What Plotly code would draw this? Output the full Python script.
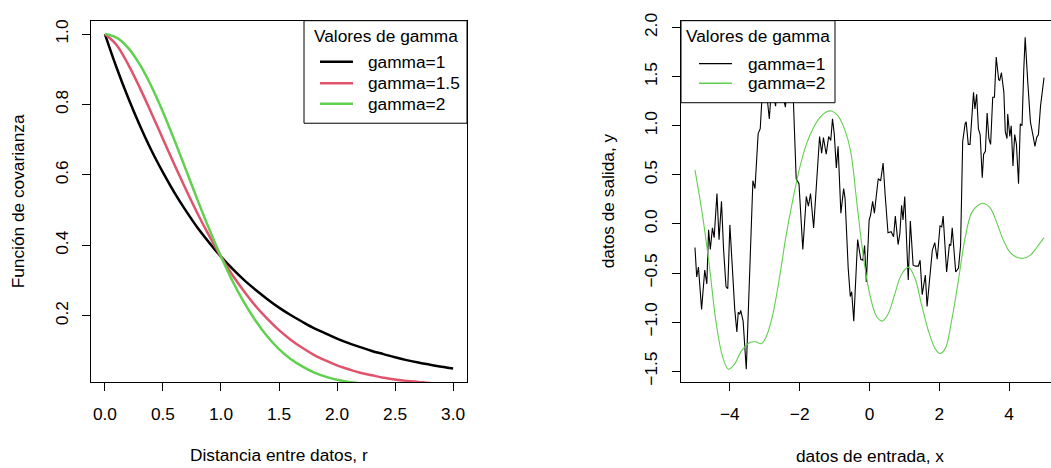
import plotly.graph_objects as go

W, H = 1051, 468
FONT = "Liberation Sans, Arial, Helvetica, sans-serif"
FS = 17.3
RED = "#DF536B"
GREEN = "#61D04F"

# ---------------- data: left panel (covariance functions) ----------------
r_vals = [0.0, 0.1, 0.2, 0.3, 0.4, 0.5, 0.6, 0.7, 0.8, 0.9, 1.0, 1.1, 1.2, 1.3, 1.4, 1.5,
          1.6, 1.7, 1.8, 1.9, 2.0, 2.1, 2.2, 2.3, 2.4, 2.5, 2.6, 2.7, 2.8, 2.9, 3.0]
cov_g1 = [1.000, 0.905, 0.819, 0.741, 0.670, 0.607, 0.549, 0.497, 0.449, 0.407, 0.368, 0.333,
          0.301, 0.273, 0.247, 0.223, 0.202, 0.183, 0.165, 0.150, 0.135, 0.122, 0.111, 0.100,
          0.091, 0.082, 0.074, 0.067, 0.061, 0.055, 0.050]
cov_g15 = [1.000, 0.969, 0.914, 0.848, 0.776, 0.702, 0.628, 0.557, 0.489, 0.426, 0.368, 0.315,
           0.269, 0.227, 0.191, 0.159, 0.132, 0.109, 0.089, 0.073, 0.059, 0.048, 0.038, 0.031,
           0.024, 0.019, 0.015, 0.012, 0.009, 0.007, 0.006]
cov_g2 = [1.000, 0.990, 0.961, 0.914, 0.852, 0.779, 0.698, 0.613, 0.527, 0.445, 0.368, 0.298,
          0.237, 0.185, 0.141, 0.105, 0.077, 0.056, 0.039, 0.027, 0.018, 0.012, 0.008, 0.005,
          0.003, 0.002, 0.001, 0.001, 0.000, 0.000, 0.000]
left_names = ["gamma=1", "gamma=1.5", "gamma=2"]

# ---------------- data: right panel (sample paths) ----------------
path1_x = [-5.00, -4.95, -4.90, -4.81, -4.72, -4.66, -4.61, -4.56, -4.50, -4.45, -4.37, -4.31,
           -4.24, -4.18, -4.11, -4.06, -4.00, -3.93, -3.86, -3.80, -3.76, -3.72, -3.69, -3.62,
           -3.53, -3.34, -3.28, -3.19, -3.13, -3.09, -3.04, -2.96, -2.87, -2.80, -2.69, -2.62,
           -2.50, -2.41, -2.33, -2.19, -2.10, -2.02, -1.91, -1.81, -1.75, -1.69, -1.60, -1.51,
           -1.43, -1.37, -1.32, -1.24, -1.17, -1.11, -1.06, -1.01, -0.95, -0.90, -0.82, -0.74,
           -0.70, -0.61, -0.55, -0.51, -0.45, -0.34, -0.25, -0.19, -0.14, -0.09, -0.01, 0.03,
           0.09, 0.14, 0.18, 0.25, 0.32, 0.39, 0.45, 0.53, 0.62, 0.69, 0.74, 0.82, 0.87, 0.92,
           0.96, 1.01, 1.11, 1.17, 1.25, 1.32, 1.40, 1.45, 1.51, 1.60, 1.65, 1.73, 1.80, 1.87,
           1.94, 2.02, 2.07, 2.11, 2.21, 2.29, 2.33, 2.37, 2.47, 2.55, 2.61, 2.67, 2.74, 2.77,
           2.83, 2.88, 2.93, 2.98, 3.02, 3.07, 3.12, 3.17, 3.23, 3.27, 3.32, 3.37, 3.42, 3.47,
           3.53, 3.58, 3.63, 3.70, 3.73, 3.78, 3.85, 3.89, 3.94, 3.96, 4.02, 4.06, 4.11, 4.16,
           4.21, 4.27, 4.32, 4.37, 4.42, 4.46, 4.53, 4.61, 4.70, 4.74, 4.79, 4.84, 4.90, 4.94,
           5.00]
path1_y = [-0.24, -0.54, -0.44, -0.87, -0.47, -0.61, -0.06, -0.26, -0.04, -0.14, 0.31, -0.16,
           0.23, -0.26, -0.64, -0.66, -0.01, -0.45, -0.87, -1.10, -0.90, -0.92, -0.88, -0.99,
           -1.48, 0.44, 0.36, 0.92, 0.97, 1.22, 1.45, 1.38, 1.07, 1.42, 1.20, 1.55,
           1.36, 1.19, 1.48, 1.35, 0.46, 0.41, -0.26, 0.28, 0.18, 0.31, -0.04, 0.47,
           0.89, 0.72, 0.88, 0.71, 0.89, 0.85, 1.07, 0.92, 0.57, 0.79, 0.11, 0.36,
           0.26, -0.45, -0.74, -0.69, -0.99, -0.16, -0.36, -0.37, -0.22, -0.59, 0.04, 0.09,
           0.23, 0.11, 0.23, 0.46, 0.44, 0.62, 0.29, -0.09, -0.08, -0.13, 0.08, -0.21, -0.10, 0.19,
           0.04, 0.28, -0.57, 0.03, -0.42, -0.43, -0.43, -0.37, -0.72, -0.52, -0.84, -0.56, -0.27, -0.19,
           -0.36, -0.02, -0.03, 0.08, -0.49, -0.21, -0.22, -0.04, -0.49, -0.45, -0.22, 0.84, 1.02, 1.04,
           0.81, 0.81, 1.10, 1.34, 1.17, 1.32, 0.97, 0.91, 0.47, 0.71, 0.74, 1.13, 0.87, 0.81,
           1.29, 1.29, 1.70, 1.47, 1.46, 1.54, 1.34, 0.94, 0.87, 1.12, 0.89, 1.00, 0.59, 0.91,
           0.81, 0.41, 1.02, 1.00, 1.57, 1.90, 1.47, 1.04, 0.87, 0.79, 0.88, 0.91, 1.20, 1.32,
           1.49]

path2_x = [-5.00, -4.78, -4.59, -4.40, -4.21, -4.04, -3.87, -3.68, -3.44, -3.27, -3.10, -2.96,
           -2.77, -2.58, -2.39, -2.20, -2.00, -1.81, -1.62, -1.43, -1.24, -1.09, -0.90, -0.71,
           -0.54, -0.36, -0.18, 0.01, 0.20, 0.36, 0.53, 0.72, 0.91, 1.11, 1.30, 1.49, 1.68,
           1.88, 2.02, 2.17, 2.35, 2.54, 2.73, 2.92, 3.11, 3.26, 3.46, 3.65, 3.84, 4.03, 4.22,
           4.41, 4.60, 4.79, 5.00]
path2_y = [0.55, 0.08, -0.42, -0.99, -1.35, -1.48, -1.43, -1.30, -1.21, -1.20, -1.22, -1.15,
           -0.92, -0.55, -0.12, 0.24, 0.57, 0.81, 0.97, 1.08, 1.14, 1.15, 1.10, 0.96,
           0.74, 0.21, -0.32, -0.72, -0.94, -0.99, -0.92, -0.72, -0.52, -0.44, -0.55, -0.82, -1.08,
           -1.27, -1.32, -1.27, -0.99, -0.59, -0.16, 0.11, 0.19, 0.21, 0.16, 0.01, -0.17, -0.29, -0.34,
           -0.35, -0.32, -0.24, -0.14]
right_names = ["gamma=1", "gamma=2"]

left_xticks = [0.0, 0.5, 1.0, 1.5, 2.0, 2.5, 3.0]
left_yticks = [0.2, 0.4, 0.6, 0.8, 1.0]
right_xticks = [-4, -2, 0, 2, 4]
right_yticks = [-1.5, -1.0, -0.5, 0.0, 0.5, 1.0, 1.5, 2.0]


def px(x):
    return x / W


def py(y):
    return 1 - y / H


fig = go.Figure()
fig.add_trace(go.Scatter(x=r_vals, y=cov_g1, mode="lines", line=dict(color="black", width=2.5, shape="spline"),
                         xaxis="x", yaxis="y", showlegend=False))
fig.add_trace(go.Scatter(x=r_vals, y=cov_g15, mode="lines", line=dict(color=RED, width=2.5, shape="spline"),
                         xaxis="x", yaxis="y", showlegend=False))
fig.add_trace(go.Scatter(x=r_vals, y=cov_g2, mode="lines", line=dict(color=GREEN, width=2.5, shape="spline"),
                         xaxis="x", yaxis="y", showlegend=False))
fig.add_trace(go.Scatter(x=path1_x, y=path1_y, mode="lines", line=dict(color="black", width=1.1),
                         xaxis="x2", yaxis="y2", showlegend=False))
fig.add_trace(go.Scatter(x=path2_x, y=path2_y, mode="lines", line=dict(color=GREEN, width=1.1, shape="spline"),
                         xaxis="x2", yaxis="y2", showlegend=False))

ydom = [py(383), py(13)]
axis_common = dict(showgrid=False, zeroline=False, showline=True, linecolor="black", linewidth=1,
                   ticks="outside", ticklen=8, tickcolor="black", tickwidth=1,
                   tickfont=dict(family=FONT, size=FS, color="black"))

fig.update_layout(
    width=W, height=H, margin=dict(l=0, r=0, t=0, b=0),
    paper_bgcolor="white", plot_bgcolor="white", showlegend=False,
    xaxis=dict(domain=[px(91), px(467)], range=[-0.12, 3.12], tickvals=left_xticks, tickformat=".1f",
               mirror=True, anchor="y", ticklabelstandoff=8, **axis_common),
    yaxis=dict(domain=ydom, range=[0.0118, 1.038], tickvals=left_yticks, tickformat=".1f",
               mirror=True, anchor="x", tickangle=-90, ticklabelstandoff=7, **axis_common),
    xaxis2=dict(domain=[px(681), 1.0], range=[-5.4, 5.2], tickvals=right_xticks,
                mirror=True, anchor="y2", ticklabelstandoff=8, **axis_common),
    yaxis2=dict(domain=ydom, range=[-1.61, 2.07], tickvals=right_yticks, tickformat=".1f",
                mirror=False, anchor="x2", tickangle=-90, ticklabelstandoff=8, **axis_common),
)

shapes = []
annotations = []
tfont = dict(family=FONT, size=FS, color="black")

# axis titles
annotations.append(dict(text="Distancia entre datos, r", x=px(279), y=py(458), xref="paper", yref="paper",
                        showarrow=False, xanchor="center", yanchor="middle", font=tfont))
annotations.append(dict(text="Función de covarianza", x=px(18), y=py(198), xref="paper", yref="paper",
                        showarrow=False, xanchor="center", yanchor="middle", textangle=-90, font=tfont))
annotations.append(dict(text="datos de entrada, x", x=px(870), y=py(459), xref="paper", yref="paper",
                        showarrow=False, xanchor="center", yanchor="middle", font=tfont))
annotations.append(dict(text="datos de salida, y", x=px(608), y=py(198), xref="paper", yref="paper",
                        showarrow=False, xanchor="center", yanchor="middle", textangle=-90, font=tfont))

# left legend
shapes.append(dict(type="rect", xref="paper", yref="paper", x0=px(304), x1=px(467), y0=py(118), y1=py(13),
                   line=dict(color="black", width=1), fillcolor="white", layer="above"))
annotations.append(dict(text="Valores de gamma", x=px(385.5), y=py(29), xref="paper", yref="paper",
                        showarrow=False, xanchor="center", yanchor="middle", font=tfont))
for i, (name, col) in enumerate(zip(left_names, ["black", RED, GREEN])):
    yy = [55, 77, 98][i]
    shapes.append(dict(type="line", xref="paper", yref="paper", x0=px(320), x1=px(353), y0=py(yy), y1=py(yy),
                       line=dict(color=col, width=2.5), layer="above"))
    annotations.append(dict(text=name, x=px(366), y=py(yy), xref="paper", yref="paper",
                            showarrow=False, xanchor="left", yanchor="middle", font=tfont))

# right legend
shapes.append(dict(type="rect", xref="paper", yref="paper", x0=px(681), x1=px(835), y0=py(97), y1=py(13),
                   line=dict(color="black", width=1), fillcolor="white", layer="above"))
annotations.append(dict(text="Valores de gamma", x=px(758), y=py(29), xref="paper", yref="paper",
                        showarrow=False, xanchor="center", yanchor="middle", font=tfont))
for i, (name, col) in enumerate(zip(right_names, ["black", GREEN])):
    yy = [57, 77][i]
    shapes.append(dict(type="line", xref="paper", yref="paper", x0=px(699), x1=px(732), y0=py(yy), y1=py(yy),
                       line=dict(color=col, width=1.4), layer="above"))
    annotations.append(dict(text=name, x=px(746), y=py(yy), xref="paper", yref="paper",
                            showarrow=False, xanchor="left", yanchor="middle", font=tfont))

fig.update_layout(shapes=shapes, annotations=annotations)
fig.write_html("out.html")
